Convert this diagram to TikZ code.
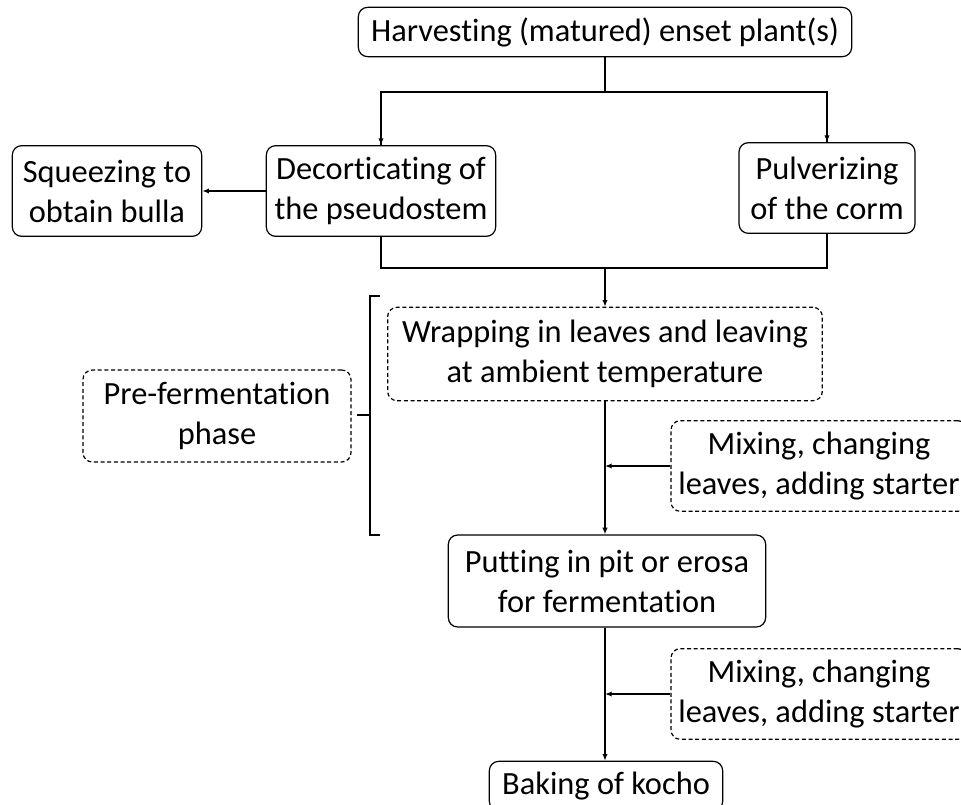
\documentclass[tikz,border=0pt]{standalone}
\usepackage{fontspec}
\setmainfont{Carlito}[RawFeature=-liga]
\usetikzlibrary{arrows.meta, positioning}

\begin{document}
\begin{tikzpicture}[
            x=0.75pt, y=-0.75pt,
            >={Latex[length=5pt,width=4pt]},
            stage/.style={rectangle, draw, line width=0.9pt, rounded corners=7pt, align=center, inner sep=2pt, font=\fontsize{24.3}{30}\selectfont},
            phase/.style={stage, dash pattern=on 3pt off 2pt},
            arrow/.style={->, line width=1.2pt},
            joint/.style={line width=1.8pt}
        ]

\useasboundingbox (0,0) rectangle (961,804);
\clip (0,0) rectangle (961,804);

% Nodes
            \node[stage, minimum width=370pt, minimum height=37pt] (harvest) at (605,32) {Harvesting (matured) enset plant(s)};
            \node[stage, minimum width=142pt, minimum height=68pt] (squeeze) at (107,191) {Squeezing to\\obtain bulla};
            \node[stage, minimum width=172pt, minimum height=68pt] (decort) at (381,191) {Decorticating of\\the pseudostem};
            \node[stage, minimum width=132pt, minimum height=68pt] (pulver) at (827,188) {Pulverizing\\of the corm};
            \node[phase, minimum width=326pt, minimum height=70pt] (wrap) at (605,354) {Wrapping in leaves and leaving\\at ambient temperature};
            \node[phase, minimum width=201pt, minimum height=69pt] (pre) at (217,416) {Pre-fermentation\\phase};
            \node[phase, minimum width=222pt, minimum height=68pt] (mixA) at (819,466) {Mixing, changing\\leaves, adding starter};
            \node[stage, minimum width=238pt, minimum height=69pt] (put) at (607,581) {Putting in pit or erosa\\for fermentation};
            \node[phase, minimum width=222pt, minimum height=68pt] (mixB) at (819,694) {Mixing, changing\\leaves, adding starter};
            \node[stage, minimum width=175pt, minimum height=37pt] (bake) at (606,786) {Baking of kocho};

            \coordinate (split) at (605,92);
            \coordinate (merge) at (605,268);

% Edges
            \draw[joint] (harvest) -- (split);
            \draw[joint] (split) -| (decort.north);
            \draw[joint] (split) -| (pulver.north);
            \draw[arrow] (decort.north |- split) -- (decort);
            \draw[arrow] (pulver.north |- split) -- (pulver);
            \draw[arrow] (decort) -- (squeeze);
            \draw[joint] (decort) |- (merge);
            \draw[joint] (pulver) |- (merge);
            \draw[arrow] (merge) -- (wrap);
            \draw[arrow] (wrap.south) -- (wrap.south |- put.north);
            \draw[arrow] (mixA) -- (mixA.west -| wrap.south);
            \draw[arrow] (put.south -| wrap.south) -- (wrap.south |- bake.north);
            \draw[arrow] (mixB) -- (mixB.west -| wrap.south);

% Bracket
            \draw[line width=1.5pt] (380,296) -- (370,296) -- (370,535) -- (380,535);
            \draw[line width=1.5pt] (370,415) -- (357,415);

        \end{tikzpicture}
\end{document}
